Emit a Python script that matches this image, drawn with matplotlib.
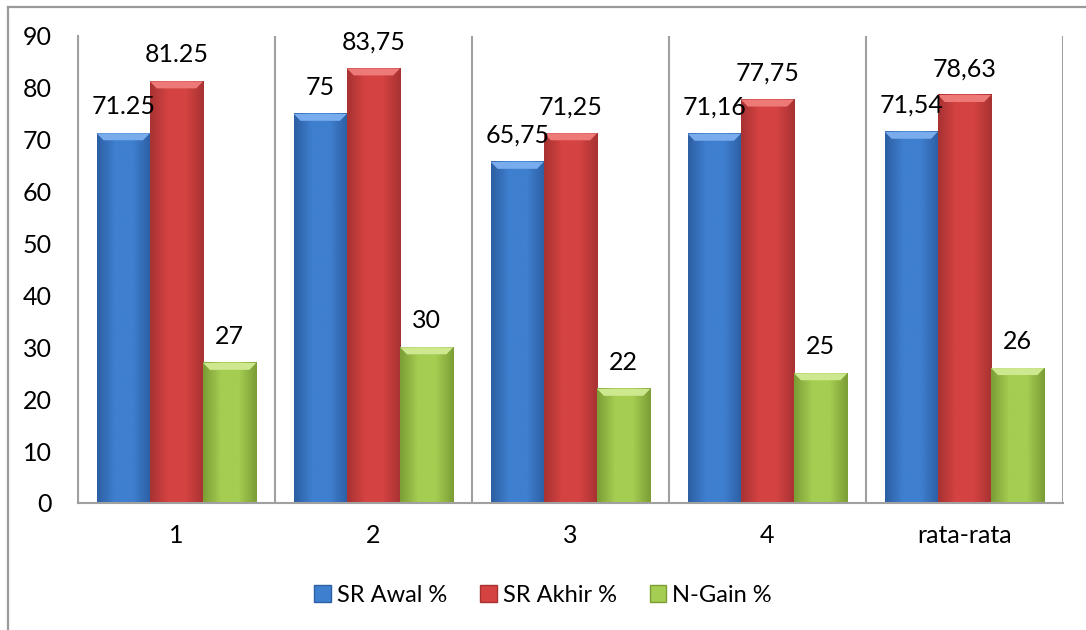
import numpy as np
import matplotlib
matplotlib.use("Agg")
from matplotlib import pyplot as plt
from matplotlib.patches import Polygon
from matplotlib.lines import Line2D

categories = ["1", "2", "3", "4", "rata-rata"]
sr_awal = [71.25, 75, 65.75, 71.16, 71.54]
sr_akhir = [81.25, 83.75, 71.25, 77.75, 78.63]
n_gain = [27, 30, 22, 25, 26]
awal_labels = ["71.25", "75", "65,75", "71,16", "71,54"]
akhir_labels = ["81.25", "83,75", "71,25", "77,75", "78,63"]
gain_labels = ["27", "30", "22", "25", "26"]
series_names = ["SR Awal %", "SR Akhir %", "N-Gain %"]

# (edge, centre, bevel) colours per series
palettes = [
    ("#2c5fa3", "#3f7fcf", "#79acec"),
    ("#a83232", "#d44342", "#ee7a78"),
    ("#7c9e36", "#a5cd51", "#cde88e"),
]

plt.rcParams['font.family'] = ['Lato', 'DejaVu Sans']
fs = 18

fig = plt.figure(figsize=(10.86, 6.30), dpi=100)
ax = fig.add_axes([0.0718, 0.2016, 0.9070, 0.7413])

# outer chart border (left + top)
fig.add_artist(Line2D([8 / 1086, 8 / 1086], [0, 1 - 7 / 630], transform=fig.transFigure,
                      color="#9a9a9a", lw=1.6))
fig.add_artist(Line2D([8 / 1086, 1], [1 - 7 / 630, 1 - 7 / 630], transform=fig.transFigure,
                      color="#9a9a9a", lw=1.6))

x = np.arange(len(categories))
w = 0.27
ylim = 90

px_per_unit_y = 467 / ylim
bevel_h = 7 / px_per_unit_y
bevel_w = 0.035

grad = np.linspace(-1, 1, 64)
for k, (vals, labs) in enumerate(zip([sr_awal, sr_akhir, n_gain],
                                     [awal_labels, akhir_labels, gain_labels])):
    edge, centre, bevel = palettes[k]
    cmap = matplotlib.colors.LinearSegmentedColormap.from_list(
        "b%d" % k, [edge, centre, centre, edge])
    for i, v in enumerate(vals):
        xc = x[i] + (k - 1) * w
        x0, x1 = xc - w / 2, xc + w / 2
        ax.imshow(grad[None, :], cmap=cmap, extent=[x0, x1, 0, v], aspect="auto",
                  interpolation="bilinear", zorder=2)
        ax.add_patch(Polygon([[x0, v], [x1, v], [x1 - bevel_w, v - bevel_h],
                              [x0 + bevel_w, v - bevel_h]], closed=True,
                             facecolor=bevel, edgecolor="none", zorder=3))
        ax.annotate(labs[i], (xc, v), xytext=(0, 19), textcoords="offset points",
                    ha="center", va="center", fontsize=fs, color="black", zorder=4)

ax.set_xlim(-0.5, len(categories) - 0.5)
ax.set_ylim(0, ylim)

# category separators
for b in np.arange(-0.5, len(categories), 1):
    ax.axvline(b, color="#a0a0a0", lw=1.5, zorder=1)

for s in ["top", "right"]:
    ax.spines[s].set_visible(False)
ax.spines["left"].set_color("#a0a0a0")
ax.spines["bottom"].set_color("#a0a0a0")
ax.spines["left"].set_linewidth(1.5)
ax.spines["bottom"].set_linewidth(1.5)

ax.set_yticks(np.arange(0, 91, 10))
ax.set_xticks(x)
ax.set_xticklabels(categories)
ax.tick_params(axis="y", length=0, pad=19, labelsize=fs)
ax.tick_params(axis="x", length=0, pad=15, labelsize=fs)

handles = [matplotlib.patches.Patch(facecolor=p[1], edgecolor=p[0]) for p in palettes]
fig.legend(handles, series_names, loc="center", bbox_to_anchor=(0.5, 1 - 595 / 630),
           ncol=3, frameon=False, fontsize=17, handlelength=0.7, handleheight=0.7,
           handletextpad=0.25, columnspacing=1.4)

fig.savefig("out.png", dpi=100)
